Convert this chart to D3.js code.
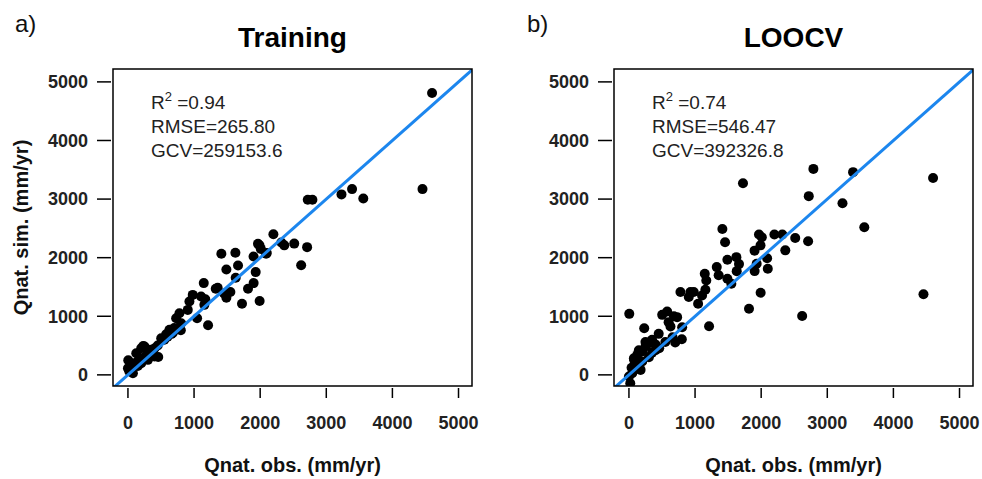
<!DOCTYPE html>
<html>
<head>
<meta charset="utf-8">
<script src="https://cdn.jsdelivr.net/npm/d3@7"></script>
<style>
    body { margin: 0; background: #fff; }
    svg { display: block; font-family: "Liberation Sans", Arial, sans-serif; }
</style>
</head>
<body>
<svg id="chart" width="982" height="479"></svg>
<script>
// observed values (shared x for both panels)
var obs = [4600, 4455, 3390, 3230, 3560, 2720, 2790, 2710, 2620, 2515,
    2365, 2320, 2200, 1967, 1990, 2010, 2090, 1900, 2100, 1413,
    1625, 1665, 1489, 1932, 1630, 1901, 1816, 1328, 1549, 1489,
    1725, 1992, 1454, 1147, 980, 1106, 930, 1156, 905, 1046,
    1212, 1170, 779, 729, 805, 628, 578, 503, 700, 800,
    458, 231, 5, 251, 302, 201, 126, 176, 50, 0,
    20, 75, 201, 302, 402, 100, 150, 350, 400, 550,
    660, 1357, 150, 250, 350, 450, 600, 680, 80, 40];
// simulated values, training fit
var simTraining = [4810, 3170, 3170, 3080, 3010, 2990, 2990, 2180, 1870, 2240,
    2210, 2260, 2400, 2236, 2210, 2150, 2066, 2020, 2080, 2066,
    2083, 1867, 1799, 1754, 1657, 1566, 1470, 1470, 1413, 1317,
    1215, 1260, 1390, 1566, 1365, 1337, 1251, 1195, 1109, 967,
    846, 1290, 1052, 967, 882, 768, 694, 626, 800, 760,
    306, 494, 250, 483, 370, 455, 370, 285, 142, 114,
    60, 29, 199, 256, 313, 200, 150, 400, 450, 600,
    700, 1485, 230, 300, 430, 500, 650, 720, 180, 90];
// simulated values, leave-one-out cross validation
var simLoocv = [3360, 1375, 3460, 2930, 2520, 3050, 3515, 2280, 1005, 2335,
    2125, 2395, 2395, 2395, 2210, 2350, 1990, 2120, 1810, 2490,
    2009, 1890, 1964, 1896, 1770, 1771, 1129, 1839, 1555, 1640,
    3269, 1402, 2264, 1725, 1413, 1356, 1413, 1453, 1328, 1215,
    829, 1612, 1413, 985, 814, 825, 1080, 1024, 551, 609,
    455, 797, 1041, 483, 540, 398, 341, 85, 29, -29,
    -142, 284, 227, 300, 420, 150, 200, 380, 520, 560,
    640, 1700, 420, 560, 600, 700, 900, 1000, 250, 120];

var panels = [
    { tag: 'a)', title: 'Training', sim: simTraining, r2: '0.94', rmse: '265.80', gcv: '259153.6', ylab: true },
    { tag: 'b)', title: 'LOOCV', sim: simLoocv, r2: '0.74', rmse: '546.47', gcv: '392326.8', ylab: false }
];
var ticks = [0, 1000, 2000, 3000, 4000, 5000];

var svg = d3.select('#chart');
var boxW = 359, boxTop = 69, boxBottom = 386;
var lefts = [113, 614];
var tagX = [15, 527];
var lineColor = '#1C86EE';

panels.forEach(function (p, i) {
    var x0 = lefts[i];
    var x = d3.scaleLinear().domain([-226, 5204]).range([x0, x0 + boxW]);
    var y = d3.scaleLinear().domain([-190, 5220]).range([boxBottom, boxTop]);
    var g = svg.append('g');

    g.append('text')
        .attr('x', tagX[i]).attr('y', 32)
        .attr('font-size', '24px')
        .attr('fill', '#111')
        .text(p.tag);

    g.append('text')
        .attr('x', x0 + boxW / 2).attr('y', 47)
        .attr('text-anchor', 'middle')
        .attr('font-size', '28px')
        .attr('font-weight', 'bold')
        .attr('fill', '#000')
        .text(p.title);

    // clip for points and 1:1 line
    var clipId = 'clip' + i;
    g.append('clipPath').attr('id', clipId)
        .append('rect')
        .attr('x', x0).attr('y', boxTop)
        .attr('width', boxW).attr('height', boxBottom - boxTop);

    var data = obs.map(function (o, k) { return { o: o, s: p.sim[k] }; });

    g.append('g').attr('clip-path', 'url(#' + clipId + ')')
        .selectAll('circle')
        .data(data)
        .enter()
        .append('circle')
        .attr('cx', function (d) { return x(d.o); })
        .attr('cy', function (d) { return y(d.s); })
        .attr('r', 5)
        .attr('fill', '#000');

    g.append('line')
        .attr('clip-path', 'url(#' + clipId + ')')
        .attr('x1', x(-300)).attr('y1', y(-300))
        .attr('x2', x(5300)).attr('y2', y(5300))
        .attr('stroke', lineColor)
        .attr('stroke-width', 3);

    g.append('rect')
        .attr('x', x0).attr('y', boxTop)
        .attr('width', boxW).attr('height', boxBottom - boxTop)
        .attr('fill', 'none')
        .attr('stroke', '#000')
        .attr('stroke-width', 1.5);

    // x axis ticks and labels
    var xa = g.append('g');
    xa.selectAll('line')
        .data(ticks)
        .enter()
        .append('line')
        .attr('x1', function (d) { return x(d); })
        .attr('x2', function (d) { return x(d); })
        .attr('y1', boxBottom + 2).attr('y2', boxBottom + 12)
        .attr('stroke', '#000').attr('stroke-width', 1.5);
    xa.selectAll('text')
        .data(ticks)
        .enter()
        .append('text')
        .attr('x', function (d) { return x(d); })
        .attr('y', 429)
        .attr('text-anchor', 'middle')
        .attr('font-size', '18px')
        .attr('font-weight', 'bold')
        .attr('fill', '#222')
        .text(function (d) { return d; });

    // y axis ticks and labels
    var ya = g.append('g');
    ya.selectAll('line')
        .data(ticks)
        .enter()
        .append('line')
        .attr('y1', function (d) { return y(d); })
        .attr('y2', function (d) { return y(d); })
        .attr('x1', x0 - 2).attr('x2', x0 - 16)
        .attr('stroke', '#000').attr('stroke-width', 1.5);
    ya.selectAll('text')
        .data(ticks)
        .enter()
        .append('text')
        .attr('x', x0 - 25)
        .attr('y', function (d) { return y(d); })
        .attr('dy', '0.35em')
        .attr('text-anchor', 'end')
        .attr('font-size', '18px')
        .attr('font-weight', 'bold')
        .attr('fill', '#222')
        .text(function (d) { return d; });

    g.append('text')
        .attr('x', x0 + boxW / 2).attr('y', 472)
        .attr('text-anchor', 'middle')
        .attr('font-size', '20px')
        .attr('font-weight', 'bold')
        .attr('fill', '#111')
        .text('Qnat. obs. (mm/yr)');

    if (p.ylab) {
        g.append('text')
            .attr('transform', 'translate(28,' + ((boxTop + boxBottom) / 2) + ') rotate(-90)')
            .attr('text-anchor', 'middle')
            .attr('font-size', '20px')
            .attr('font-weight', 'bold')
            .attr('fill', '#111')
            .text('Qnat. sim. (mm/yr)');
    }

    // stats block
    var sx = x0 + 38;
    var r2 = g.append('text')
        .attr('x', sx).attr('y', 109)
        .attr('font-size', '19px')
        .attr('fill', '#222');
    r2.append('tspan').text('R');
    r2.append('tspan').attr('dy', -8).attr('font-size', '13px').text('2');
    r2.append('tspan').attr('dy', 8).text(' =' + p.r2);

    g.append('text')
        .attr('x', sx).attr('y', 133)
        .attr('font-size', '19px')
        .attr('fill', '#222')
        .text('RMSE=' + p.rmse);

    g.append('text')
        .attr('x', sx).attr('y', 157)
        .attr('font-size', '19px')
        .attr('fill', '#222')
        .text('GCV=' + p.gcv);
});
</script>
</body>
</html>
